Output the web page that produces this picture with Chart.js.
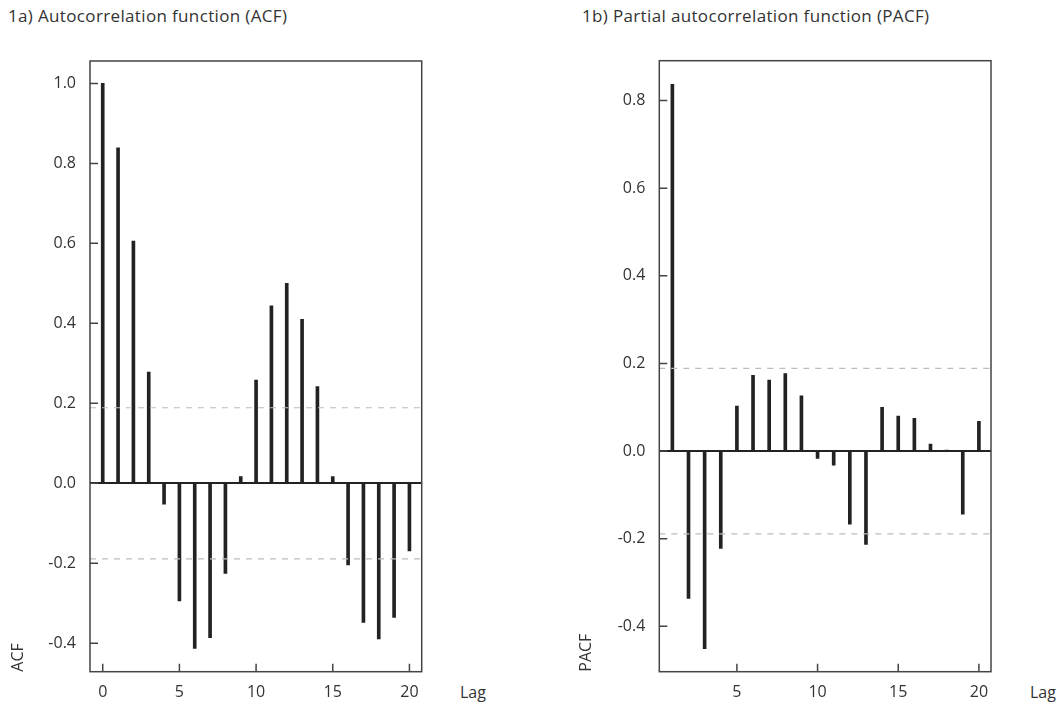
<!DOCTYPE html>
<html lang="en">
<head>
<meta charset="utf-8">
<title>ACF / PACF</title>
<script src="https://cdn.jsdelivr.net/npm/chart.js@4.4.1/dist/chart.umd.min.js"></script>
<style>
  body { margin: 0; background: #fff; font-family: "Open Sans", sans-serif; color: #333; }
  .panel { position: absolute; top: 0; height: 704px; }
  .ttl { position: absolute; top: 4px; font-size: 17px; letter-spacing: 0.35px; color: #333; white-space: nowrap; }
  .lag { position: absolute; top: 681px; font-size: 16px; color: #333; }
</style>
</head>
<body>
<div class="ttl" style="left:8px">1a) Autocorrelation function (ACF)</div>
<div class="ttl" style="left:582px">1b) Partial autocorrelation function (PACF)</div>
<div class="lag" style="left:460px">Lag</div>
<div class="lag" style="left:1030px">Lag</div>

<div class="panel" style="left:0; width:528px"><canvas id="acf"></canvas></div>
<div class="panel" style="left:528px; width:529px"><canvas id="pacf"></canvas></div>

<script>
// lags and values
var acfLags = [0,1,2,3,4,5,6,7,8,9,10,11,12,13,14,15,16,17,18,19,20];
var acfVals = [1.0,0.839,0.606,0.278,-0.052,-0.294,-0.413,-0.386,-0.225,0.017,0.258,
               0.444,0.5,0.41,0.242,0.017,-0.204,-0.348,-0.389,-0.335,-0.169];
var pacfLags = [1,2,3,4,5,6,7,8,9,10,11,12,13,14,15,16,17,18,19,20];
var pacfVals = [0.837,-0.336,-0.451,-0.222,0.103,0.173,0.162,0.177,0.126,-0.017,
                -0.032,-0.167,-0.213,0.1,0.08,0.075,0.016,0.002,-0.144,0.068];
var confLimit = 0.189;

var acfXTicks = [0,5,10,15,20];
var acfYTicks = [-0.4,-0.2,0,0.2,0.4,0.6,0.8,1.0];
var pacfXTicks = [5,10,15,20];
var pacfYTicks = [-0.4,-0.2,0,0.2,0.4,0.6,0.8];

var ink = '#222';
var txt = '#333';
var tickFont = { family: 'Open Sans', size: 16 };

// box around the plot area + inward tick marks
var framePlugin = {
  id: 'frame',
  afterDraw: function(chart) {
    var a = chart.chartArea, c = chart.ctx;
    c.save();
    c.strokeStyle = '#444';
    c.lineWidth = 1.5;
    c.strokeRect(a.left, a.top, a.right - a.left, a.bottom - a.top);
    c.beginPath();
    chart.scales.x.ticks.forEach(function(t) {
      var px = chart.scales.x.getPixelForValue(t.value);
      c.moveTo(px, a.bottom); c.lineTo(px, a.bottom - 8);
    });
    chart.scales.y.ticks.forEach(function(t) {
      var py = chart.scales.y.getPixelForValue(t.value);
      c.moveTo(a.left, py); c.lineTo(a.left + 8, py);
    });
    c.stroke();
    c.restore();
  }
};

function makeChart(id, lags, vals, xTicks, yTicks, xMin, xMax, yMin, yMax, pad, yWidth, yTitle) {
  var pts = lags.map(function(l, i) { return { x: l, y: vals[i] }; });
  new Chart(document.getElementById(id), {
    type: 'bar',
    data: {
      datasets: [
        { type: 'line', data: [{x: xMin, y: confLimit}, {x: xMax, y: confLimit}],
          borderColor: '#bdbdbd', borderWidth: 1.2, borderDash: [6, 6], pointRadius: 0 },
        { type: 'line', data: [{x: xMin, y: -confLimit}, {x: xMax, y: -confLimit}],
          borderColor: '#bdbdbd', borderWidth: 1.2, borderDash: [6, 6], pointRadius: 0 },
        { data: pts, backgroundColor: ink, barThickness: 3 }
      ]
    },
    options: {
      animation: false,
      responsive: true,
      maintainAspectRatio: false,
      layout: { padding: pad },
      plugins: { legend: { display: false }, tooltip: { enabled: false } },
      scales: {
        x: {
          type: 'linear', min: xMin, max: xMax, offset: false,
          afterBuildTicks: function(s) { s.ticks = xTicks.map(function(v) { return {value: v}; }); },
          afterFit: function(s) { s.height = 32.3; },
          grid: { display: false, drawTicks: false },
          border: { display: false },
          ticks: { padding: 11, color: txt, font: tickFont, maxRotation: 0 }
        },
        y: {
          min: yMin, max: yMax,
          afterBuildTicks: function(s) { s.ticks = yTicks.map(function(v) { return {value: v}; }); },
          afterFit: function(s) { s.width = yWidth; },
          grid: {
            drawTicks: false,
            color: function(c) { return c.tick && Math.abs(c.tick.value) < 1e-9 ? ink : 'rgba(0,0,0,0)'; },
            lineWidth: 2
          },
          border: { display: false },
          ticks: { padding: 14, color: txt, font: tickFont,
                   callback: function(v) { return Number(v).toFixed(1); } },
          title: { display: true, text: yTitle, align: 'start', color: txt,
                   font: tickFont, padding: { top: 3, bottom: 0 } }
        }
      }
    },
    plugins: [framePlugin]
  });
}

makeChart('acf', acfLags, acfVals, acfXTicks, acfYTicks, -0.83, 20.8, -0.471, 1.056,
          { left: 6, top: 61, right: 106.3, bottom: 0 }, 84, 'ACF');
makeChart('pacf', pacfLags, pacfVals, pacfXTicks, pacfYTicks, 0.19, 20.75, -0.5035, 0.891,
          { left: 46, top: 60.7, right: 66, bottom: 0 }, 85.3, 'PACF');
</script>
</body>
</html>
